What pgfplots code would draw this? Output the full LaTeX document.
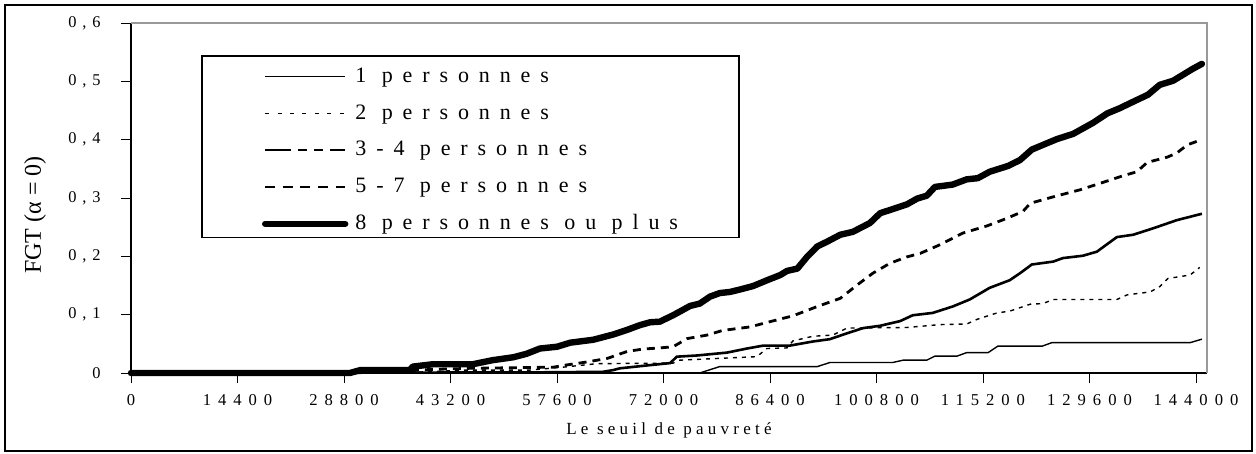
\documentclass[border=0pt]{standalone}
\usepackage{pgfplots}
\usepackage{pgfplotstable}
\pgfplotsset{compat=1.18}
\usepackage{fontspec}
\setmainfont{Liberation Serif}
\newfontfamily\tickfont[LetterSpace=36]{Liberation Serif}
\newfontfamily\xtickfont[LetterSpace=42]{Liberation Serif}
\newfontfamily\legfont[LetterSpace=45]{Liberation Serif}
\newfontfamily\labfont[LetterSpace=25]{Liberation Serif}

\pgfplotstableread{
x y
0 0
76900 0
79600 0.011
92800 0.011
94500 0.018
103000 0.018
104400 0.022
107600 0.022
108700 0.029
111700 0.029
113000 0.035
115900 0.035
117200 0.046
123200 0.046
124500 0.052
143200 0.052
144800 0.058
}\dataA

\pgfplotstableread{
x y
0 0
29600 0
40400 0.002
45000 0.005
53900 0.005
58400 0.010
63000 0.016
73300 0.017
74200 0.022
84600 0.028
86000 0.042
88700 0.043
89500 0.055
92200 0.063
94900 0.065
96800 0.077
104900 0.078
109400 0.083
113000 0.084
114400 0.092
117100 0.103
118800 0.106
121600 0.118
123300 0.119
124700 0.126
133300 0.126
134700 0.134
137800 0.139
139100 0.148
140200 0.162
143200 0.168
144500 0.181
}\dataB

\pgfplotstableread{
x y
0 0
53900 0.001
63800 0.002
65200 0.005
66100 0.008
69800 0.013
72900 0.017
73800 0.028
76500 0.030
80600 0.035
83300 0.042
85500 0.047
89100 0.047
92200 0.054
94500 0.058
96800 0.068
99000 0.077
101300 0.081
104000 0.089
105700 0.099
108400 0.103
111100 0.114
113400 0.126
116100 0.146
118800 0.159
120200 0.171
121800 0.186
124700 0.191
126000 0.197
128700 0.201
130600 0.208
132000 0.221
133300 0.233
135500 0.237
138200 0.248
141400 0.262
144800 0.273
}\dataC

\pgfplotstableread{
x y
0 0
29600 0
36400 0.003
40400 0.006
45800 0.008
57100 0.010
59000 0.014
61700 0.019
64400 0.025
67100 0.037
69200 0.041
71500 0.043
73300 0.045
75200 0.059
77900 0.065
80000 0.073
83700 0.079
86400 0.088
89500 0.098
92800 0.114
95900 0.128
98200 0.151
100300 0.171
102600 0.188
104900 0.199
106700 0.205
109400 0.220
112500 0.240
115700 0.252
118400 0.265
120600 0.277
121600 0.291
124700 0.302
128300 0.314
131000 0.325
134100 0.338
136000 0.345
137400 0.361
140100 0.370
141400 0.377
142800 0.391
144100 0.397
}\dataD

\pgfplotstableread{
x y
0 0
29600 0
31000 0.005
37700 0.005
38100 0.011
40800 0.015
46200 0.015
48900 0.022
51700 0.027
53500 0.033
55300 0.042
57600 0.045
59400 0.052
62500 0.057
65200 0.066
67100 0.074
68800 0.082
70200 0.087
71500 0.088
73300 0.099
75600 0.115
76900 0.119
78300 0.131
79600 0.137
81000 0.139
82300 0.143
84100 0.149
86000 0.159
87800 0.168
88700 0.175
90100 0.179
91400 0.199
92800 0.217
94100 0.225
95900 0.237
97600 0.242
99900 0.257
101300 0.274
103000 0.281
104900 0.289
106300 0.299
107600 0.304
108700 0.319
111100 0.323
113000 0.332
114500 0.334
116100 0.345
118600 0.355
120200 0.365
121800 0.383
123300 0.391
125200 0.401
127400 0.410
130100 0.429
132000 0.445
133700 0.454
135500 0.465
137500 0.477
139100 0.494
140900 0.501
142200 0.511
143500 0.521
144800 0.530
}\dataE

\begin{document}
\begin{tikzpicture}
\begin{axis}[
  scale only axis, width=538pt, height=175pt,
  xmin=0, xmax=145490, ymin=0, ymax=0.6,
  clip=false,
  scaled x ticks=false, scaled y ticks=false,
  axis lines*=left,
  axis line style={black, line width=0.6pt},
  xtick={0,14400,28800,43200,57600,72000,86400,100800,115200,129600,144000},
  xticklabels={0,14400,28800,43200,57600,72000,86400,100800,115200,129600,144000},
  ytick={0,0.1,0.2,0.3,0.4,0.5,0.6},
  yticklabels={0,{0,1},{0,2},{0,3},{0,4},{0,5},{0,6}},
  tick align=outside, major tick length=5pt,
  tick style={black, line width=0.5pt},
  xticklabel style={font=\xtickfont\fontsize{8.3}{9}\selectfont, anchor=north, inner sep=0pt, yshift=-5.5pt},
  yticklabel style={font=\tickfont\fontsize{8.2}{9}\selectfont, anchor=east, inner sep=0pt, xshift=-10pt},
  ylabel={FGT (α = 0)},
  ylabel style={at={(axis description cs:-0.0892,0.451)}, anchor=center, font=\fontsize{12}{14}\selectfont},
  xlabel={Le seuil de pauvreté},
  xlabel style={at={(axis description cs:0.5,-0.163)}, anchor=center, font=\labfont\fontsize{8.5}{10}\selectfont},
  legend image code/.code={\draw[#1] (0pt,2.9pt) -- (40pt,2.9pt);},
  legend cell align=left,
  legend style={at={(axis description cs:0.12175,0.8829)}, anchor=north west,
    draw=none, fill=none, inner sep=0pt, outer sep=0pt, row sep=0pt, column sep=3.5pt,
    nodes={inner sep=0pt, text height=9.2pt, text depth=9.2pt},
    font=\legfont\fontsize{11}{12}\selectfont},
]
\addplot[black, line width=0.7pt] table[x=x,y=y] {\dataA};
\addlegendentry{1 personnes}
\addplot[black, line width=0.7pt, dash pattern=on 2pt off 2.5pt,
  legend image post style={dash pattern=on 2pt off 4.2pt}] table[x=x,y=y] {\dataB};
\addlegendentry{2 personnes}
\addplot[black, line width=1.3pt,
  legend image post style={dash pattern=on 13pt off 3.5pt on 4.5pt off 3.5pt on 4.5pt off 3.5pt}] table[x=x,y=y] {\dataC};
\addlegendentry{3-4 personnes}
\addplot[black, line width=1.4pt, dash pattern=on 4pt off 3pt,
  legend image post style={dash pattern=on 4.9pt off 3.9pt}] table[x=x,y=y] {\dataD};
\addlegendentry{5-7 personnes}
\addplot[black, line width=3.2pt, line cap=round, line join=round] table[x=x,y=y] {\dataE};
\addlegendentry{8 personnes ou plus}
\draw[gray!80, line width=0.6pt] (axis description cs:0,1) -- (axis description cs:1,1) -- (axis description cs:1,0);
\draw[black, line width=0.6pt] (axis description cs:0.06599,0.90571) rectangle (axis description cs:0.56506,0.38714);
\draw[black, line width=0.6pt] (axis description cs:-0.117100,1.051429) rectangle (axis description cs:1.041822,-0.222857);
\path (axis description cs:-0.121747,1.065714) rectangle (axis description cs:1.045539,-0.231429);
\end{axis}
\end{tikzpicture}
\end{document}
